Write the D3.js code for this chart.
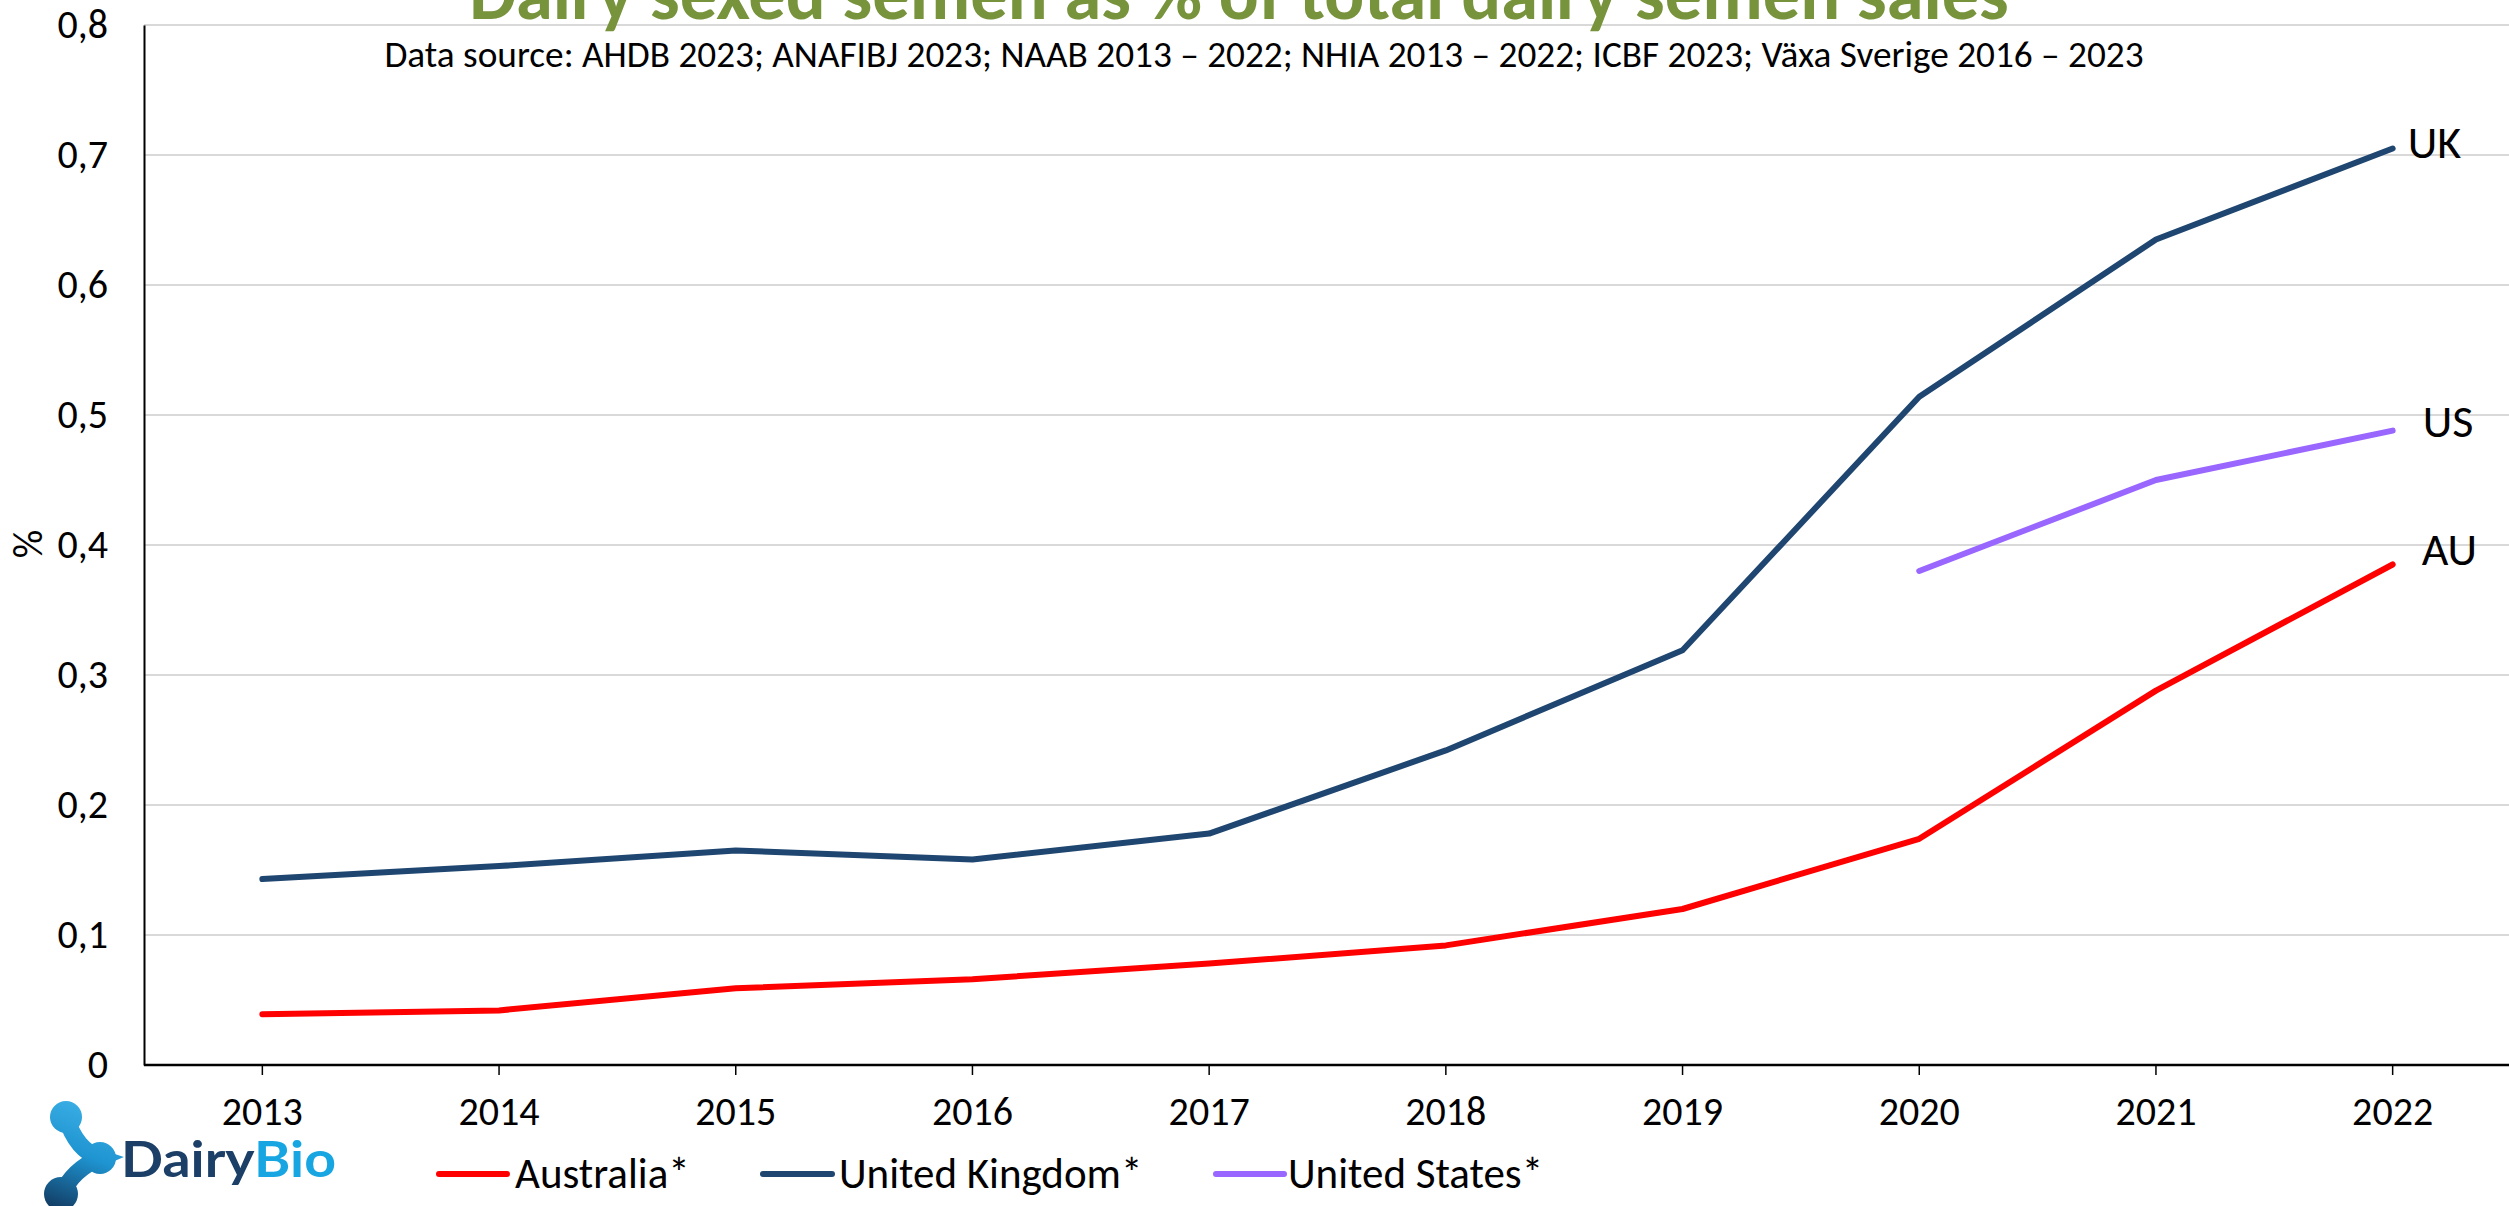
<!DOCTYPE html>
<html>
<head>
<meta charset="utf-8">
<script src="https://cdn.jsdelivr.net/npm/d3@7"></script>
<style>
  html, body { margin: 0; padding: 0; background: #ffffff; }
  svg { display: block; }
  text { font-family: Carlito, Lato, "Open Sans", sans-serif; }
</style>
</head>
<body>
<svg id="chart" width="2509" height="1206"></svg>
<script>
// ---------- data ----------
const years = [2013, 2014, 2015, 2016, 2017, 2018, 2019, 2020, 2021, 2022];
const australia = [0.039, 0.042, 0.059, 0.066, 0.078, 0.092, 0.120, 0.174, 0.288, 0.385];
const unitedKingdom = [0.143, 0.153, 0.165, 0.158, 0.178, 0.242, 0.319, 0.514, 0.635, 0.705];
const unitedStates = [null, null, null, null, null, null, null, 0.380, 0.450, 0.488];
const seriesNames = ["Australia*", "United Kingdom*", "United States*"];
const endLabels = ["AU", "UK", "US"];
const yTicks = [0, 0.1, 0.2, 0.3, 0.4, 0.5, 0.6, 0.7, 0.8];
const yTickLabels = ["0", "0,1", "0,2", "0,3", "0,4", "0,5", "0,6", "0,7", "0,8"];
const titleText = "Dairy sexed semen as % of total dairy semen sales";
const sourceText = "Data source: AHDB 2023; ANAFIBJ 2023; NAAB 2013 \u2013 2022; NHIA 2013 \u2013 2022; ICBF 2023; V\u00e4xa Sverige 2016 \u2013 2023";
const yAxisTitle = "%";

(function () {
// ---------- styles ----------
const colors = ["#FF0000", "#1F4670", "#9966FF"];
const seriesData = [australia, unitedKingdom, unitedStates];
const FONT = "Carlito, Lato, 'Open Sans', sans-serif";

const svg = d3.select("#chart");
const W = 2509;
const plotLeft = 144, plotTop = 25, plotBottom = 1065, plotRight = 2511;

const x = d3.scaleBand().domain(years).range([plotLeft, plotRight]).padding(0);
const y = d3.scaleLinear().domain([0, 0.8]).range([plotBottom, plotTop]);
const cx = d => x(d) + x.bandwidth() / 2;

function fitWidth(sel, target) {
  const node = sel.node();
  const fs = parseFloat(sel.attr("font-size"));
  const w = node.getComputedTextLength();
  if (w > 0) sel.attr("font-size", fs * target / w);
}

// gridlines
svg.append("g")
  .selectAll("line")
  .data(yTicks.filter(d => d > 0))
  .join("line")
  .attr("x1", plotLeft).attr("x2", W)
  .attr("y1", d => y(d)).attr("y2", d => y(d))
  .attr("stroke", "#D9D9D9").attr("stroke-width", 2);

// title (partially cut at top, as in the reference)
const title = svg.append("text")
  .attr("x", 1239).attr("y", 19)
  .attr("text-anchor", "middle")
  .attr("font-size", 56).attr("font-weight", 700)
  .attr("fill", "#77933C")
  .text(titleText);
fitWidth(title, 1540);

// data source
const src = svg.append("text")
  .attr("x", 1264).attr("y", 67)
  .attr("text-anchor", "middle")
  .attr("font-size", 31)
  .attr("fill", "#000")
  .text(sourceText);
fitWidth(src, 1760);

// y axis
const yAxis = d3.axisLeft(y)
  .tickValues(yTicks)
  .tickFormat((d, i) => yTickLabels[i])
  .tickSize(0)
  .tickPadding(36);
const gy = svg.append("g").attr("transform", `translate(${plotLeft},0)`).call(yAxis);
gy.select(".domain").attr("stroke", "#000").attr("stroke-width", 2);
gy.selectAll("text").attr("font-size", 40).attr("fill", "#000")
  .style("font-family", FONT);

// x axis
const xAxis = d3.axisBottom(x).tickSize(10).tickPadding(22).tickSizeOuter(0);
const gx = svg.append("g").attr("transform", `translate(0,${plotBottom})`).call(xAxis);
gx.select(".domain").attr("stroke", "#000").attr("stroke-width", 2.5)
  .attr("d", `M${plotLeft},0H${W}`);
gx.selectAll(".tick line").attr("stroke", "#000").attr("stroke-width", 1.5);
gx.selectAll("text").attr("font-size", 40).attr("fill", "#000")
  .style("font-family", FONT);

// y axis title
svg.append("text")
  .attr("transform", `translate(42,544) rotate(-90)`)
  .attr("text-anchor", "middle")
  .attr("font-size", 40)
  .attr("fill", "#000")
  .text(yAxisTitle);

// lines
const line = d3.line()
  .defined(d => d.v != null)
  .x(d => cx(d.year))
  .y(d => y(d.v));

seriesData.forEach((vals, i) => {
  const pts = years.map((yr, j) => ({ year: yr, v: vals[j] }));
  svg.append("path")
    .datum(pts)
    .attr("d", line)
    .attr("fill", "none")
    .attr("stroke", colors[i])
    .attr("stroke-width", 6)
    .attr("stroke-linejoin", "round")
    .attr("stroke-linecap", "round");
});

// end labels
const lastYear = years[years.length - 1];
const endOffsets = [{ dx: 29, dy: 0 }, { dx: 15, dy: 9 }, { dx: 30, dy: 6 }];
seriesData.forEach((vals, i) => {
  const v = vals[vals.length - 1];
  svg.append("text")
    .attr("x", cx(lastYear) + endOffsets[i].dx)
    .attr("y", y(v) + endOffsets[i].dy)
    .attr("font-size", 46)
    .attr("fill", "#000")
    .text(endLabels[i]);
});

// legend
const legendItems = [
  { x0: 439, x1: 507, tx: 515 },
  { x0: 763, x1: 832, tx: 839 },
  { x0: 1216, x1: 1284, tx: 1288 }
];
const lg = svg.append("g");
legendItems.forEach((it, i) => {
  lg.append("line")
    .attr("x1", it.x0).attr("x2", it.x1)
    .attr("y1", 1174).attr("y2", 1174)
    .attr("stroke", colors[i]).attr("stroke-width", 6)
    .attr("stroke-linecap", "round");
  lg.append("text")
    .attr("x", it.tx).attr("y", 1188)
    .attr("font-size", 43)
    .attr("fill", "#000")
    .text(seriesNames[i]);
});

// DairyBio logo
const defs = svg.append("defs");
const grad = defs.append("linearGradient")
  .attr("id", "logoGrad")
  .attr("gradientUnits", "userSpaceOnUse")
  .attr("x1", 85).attr("y1", 1102).attr("x2", 45).attr("y2", 1206);
grad.append("stop").attr("offset", "0").attr("stop-color", "#3BAFE5");
grad.append("stop").attr("offset", "0.45").attr("stop-color", "#1E94D1");
grad.append("stop").attr("offset", "1").attr("stop-color", "#123B62");

const logo = svg.append("g");
logo.append("path")
  .attr("d", "M66,1117 Q76,1150 100,1158 Q72,1170 62,1194")
  .attr("fill", "none").attr("stroke", "url(#logoGrad)")
  .attr("stroke-width", 17).attr("stroke-linecap", "round");
[[66, 1117, 16], [100, 1158, 16], [61, 1194, 17]].forEach(c => {
  logo.append("circle").attr("cx", c[0]).attr("cy", c[1]).attr("r", c[2])
    .attr("fill", "url(#logoGrad)");
});
const logoText = logo.append("text")
  .attr("x", 121).attr("y", 1177)
  .attr("font-size", 50).attr("font-weight", 700)
  .attr("textLength", 215).attr("lengthAdjust", "spacingAndGlyphs")
  .style("font-family", "Lato, 'Open Sans', sans-serif");
logoText.append("tspan").attr("fill", "#1B3F66").text("Dairy");
logoText.append("tspan").attr("fill", "#17A6E2").text("Bio");
})();
</script>
</body>
</html>
